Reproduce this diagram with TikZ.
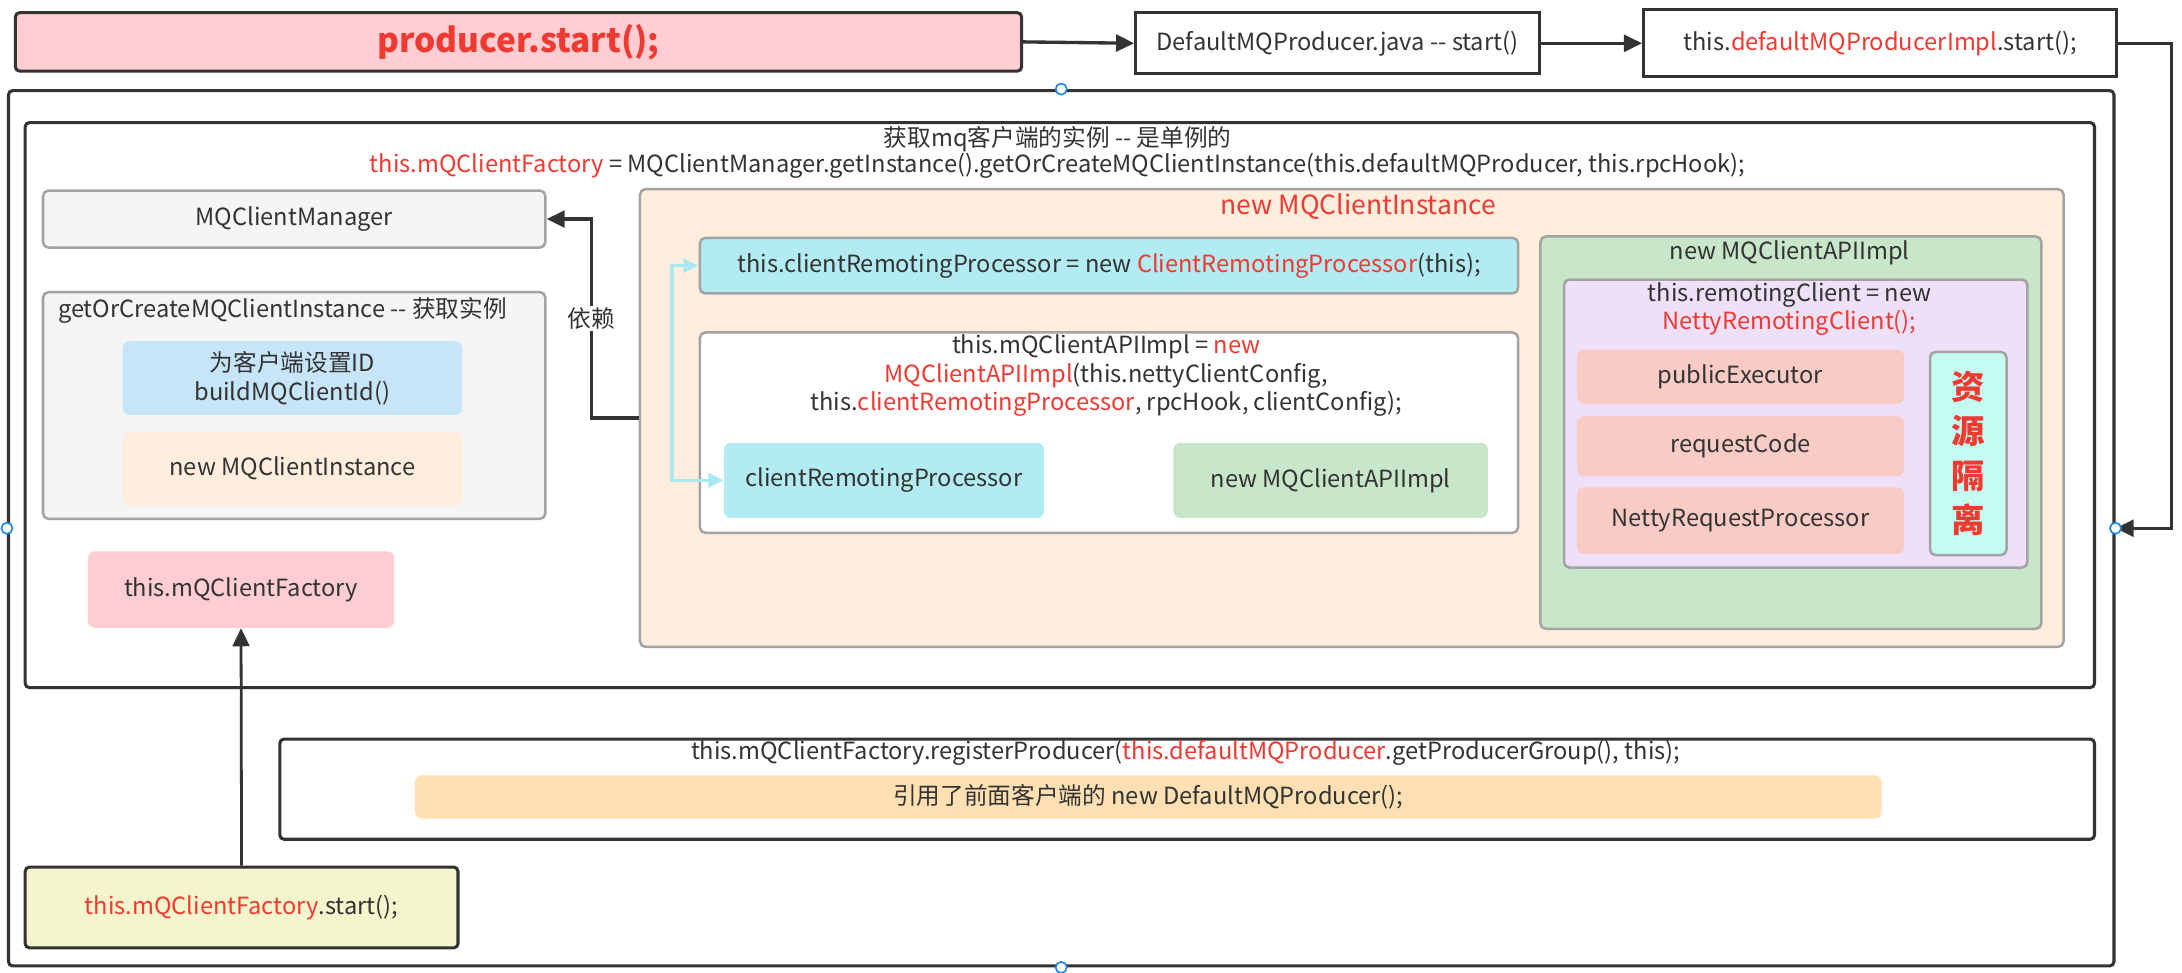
\documentclass[tikz,border=0pt]{standalone}
\usepackage{fontspec}
\setmainfont{Noto Sans CJK SC}
\usetikzlibrary{arrows.meta}
\definecolor{txt}{HTML}{333333}
\definecolor{dk}{HTML}{333333}
\definecolor{gb}{HTML}{A3A3A3}
\definecolor{redt}{HTML}{EE3A31}
\definecolor{pinkf}{HTML}{FFCDD2}
\definecolor{grayf}{HTML}{F5F5F5}
\definecolor{bluef}{HTML}{C6E5F9}
\definecolor{peachf}{HTML}{FFEEDE}
\definecolor{cyanf}{HTML}{B2EBF2}
\definecolor{greenf}{HTML}{C8E6C9}
\definecolor{lavf}{HTML}{EEE0F8}
\definecolor{salmf}{HTML}{F9CBC5}
\definecolor{aquaf}{HTML}{C4FCF2}
\definecolor{orangef}{HTML}{FFE0B3}
\definecolor{yellf}{HTML}{F4F5CC}
\definecolor{cyanl}{HTML}{A9E9F2}
\definecolor{handle}{HTML}{1E88E5}
\newcommand\R[1]{\textcolor{redt}{#1}}
\newcommand\fs{\fontsize{17}{20.5}\selectfont}
\newcommand\rbox[7]{\node[#2, anchor=north west, minimum width={#5-#3}, minimum height={#6-#4}] (#1) at (#3,#4) {#7};}
\begin{document}
\begin{tikzpicture}[x=1pt,y=-1pt,
  every node/.style={font=\fs, text=txt, inner sep=0pt},
  darkbox/.style={draw=dk, line width=2.2pt, rounded corners=3pt},
  graybox/.style={draw=gb, line width=1.8pt, rounded corners=4pt},
  flat/.style={rounded corners=5pt},
  darrow/.style={draw=dk, line width=2.4pt, -{Triangle[length=13pt,width=12pt]}},
  carrow/.style={draw=cyanl, line width=2.6pt, {Triangle[length=11pt,width=10pt]}-{Triangle[length=11pt,width=10pt]}},
  hnd/.style={circle, draw=handle, fill=white, line width=1.2pt, minimum size=8pt, inner sep=0pt}
]
\useasboundingbox (0,0) rectangle (1568,699);

% top row
\rbox{producer}{darkbox, fill=pinkf, font=\fontsize{24}{27}\bfseries}{10}{8}{733}{50}{\R{producer.start();}}
\rbox{dmp}{darkbox, fill=white, rounded corners=0pt}{815}{8}{1105}{52}{DefaultMQProducer.java -{}- start()}
\rbox{impl}{darkbox, fill=white, rounded corners=0pt}{1180}{6}{1520}{54}{this.\R{defaultMQProducerImpl}.start();}

% outer frame
\rbox{outer}{darkbox, fill=white}{5}{64}{1518}{693}{}
\rbox{inner}{darkbox, fill=white}{17}{87}{1504}{493}{}
\node (t1) at (760,100) {获取mq客户端的实例 -{}- 是单例的};
\node (t2) at (760,119) {\R{this.mQClientFactory} = MQClientManager.getInstance().getOrCreateMQClientInstance(this.defaultMQProducer, this.rpcHook);};

% left column
\rbox{mgr}{graybox, fill=grayf}{30}{136}{391}{177}{MQClientManager}
\rbox{goc}{graybox, fill=grayf}{30}{209}{391}{372}{}
\node (goct) at (203,223) {getOrCreateMQClientInstance -{}- 获取实例};
\rbox{bid}{flat, fill=bluef, align=center}{88}{245}{332}{298}{为客户端设置ID\\buildMQClientId()}
\rbox{nmi}{flat, fill=peachf}{88}{310}{332}{363}{new MQClientInstance}
\rbox{fac}{flat, fill=pinkf}{63}{396}{283}{451}{this.mQClientFactory}

% new MQClientInstance
\rbox{mci}{graybox, fill=peachf}{459}{135}{1482}{464}{}
\node[font=\fontsize{19}{22}\selectfont, text=redt] (mcit) at (976,148) {new MQClientInstance};
\rbox{crp}{graybox, fill=cyanf}{502}{170}{1090}{210}{this.clientRemotingProcessor = new \R{ClientRemotingProcessor}(this);}
\rbox{api}{graybox, fill=white}{502}{238}{1090}{382}{}
\node[align=center] (apit) at (795,270) {this.mQClientAPIImpl = \R{new}\\\R{MQClientAPIImpl}(this.nettyClientConfig,\\this.\R{clientRemotingProcessor}, rpcHook, clientConfig);};
\rbox{crps}{flat, fill=cyanf}{520}{318}{750}{372}{clientRemotingProcessor}
\rbox{napi}{flat, fill=greenf}{843}{318}{1069}{372}{new MQClientAPIImpl}

% green
\rbox{green}{graybox, fill=greenf}{1106}{169}{1466}{451}{}
\node (greent) at (1286,182) {new MQClientAPIImpl};
\rbox{purple}{graybox, fill=lavf}{1123}{200}{1456}{407}{}
\node[align=center] (purplet) at (1286,222) {this.remotingClient = new\\\R{NettyRemotingClient();}};
\rbox{pe}{flat, fill=salmf}{1133}{251}{1368}{290}{publicExecutor}
\rbox{rc}{flat, fill=salmf}{1133}{299}{1368}{342}{requestCode}
\rbox{nrp}{flat, fill=salmf}{1133}{350}{1368}{398}{NettyRequestProcessor}
\rbox{iso}{graybox, fill=aquaf, align=center, font=\fontsize{24}{32}\bfseries, text=redt}{1386}{252}{1441}{398}{资\\源\\隔\\离}

% register
\rbox{reg}{darkbox, fill=white}{200}{530}{1504}{602}{}
\node (regt) at (852,541) {this.mQClientFactory.registerProducer(\R{this.defaultMQProducer}.getProducerGroup(), this);};
\rbox{ref}{flat, fill=orangef}{298}{557}{1352}{588}{引用了前面客户端的 new DefaultMQProducer();}

% start
\rbox{start}{darkbox, fill=yellf}{17}{622}{328}{680}{\R{this.mQClientFactory}.start();}

% connectors
\draw[darrow] (producer.east) -- (dmp.west);
\draw[darrow] (dmp.east) -- (impl.west);
\draw[darrow] (impl.east) -- ++(38,0) |- (outer.east);
\draw[darrow] (mci.west) -- ++(-34,0) |- (mgr.east);
\node[fill=white, inner sep=1pt] (dep) at (425,229) {依赖};
\draw[carrow] (crp.west) -- ++(-19,0) |- (crps.west);
\draw[darrow, line width=2pt] (start.north) -- (fac.south);

% handles
\node[hnd] (h1) at (outer.north) {};
\node[hnd] (h2) at (outer.west) {};
\node[hnd] (h3) at (outer.east) {};
\node[hnd] (h4) at (outer.south) {};
\end{tikzpicture}
\end{document}
